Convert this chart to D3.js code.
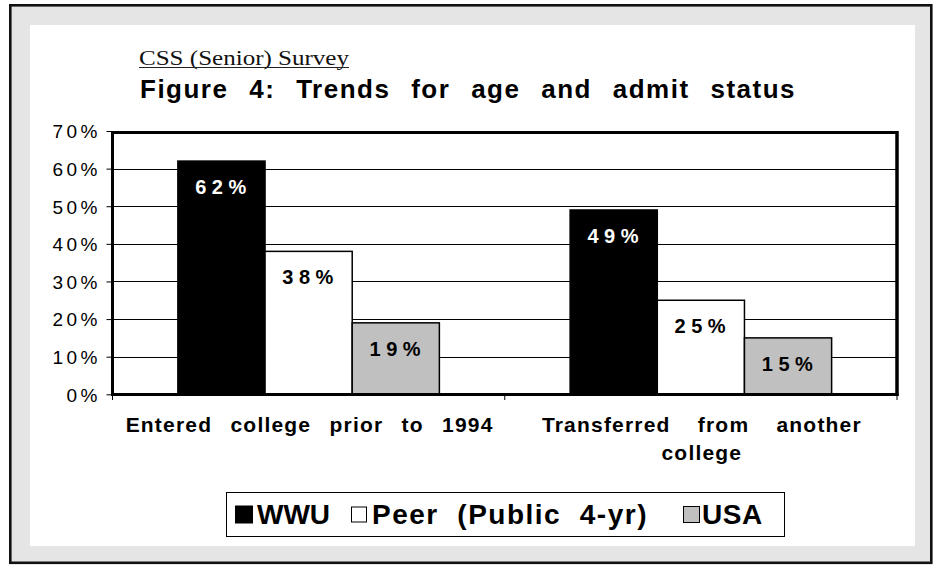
<!DOCTYPE html>
<html>
<head>
<meta charset="utf-8">
<script src="https://cdn.jsdelivr.net/npm/d3@7"></script>
<style>
  html, body { margin: 0; padding: 0; background: #ffffff; }
  svg { display: block; }
</style>
</head>
<body>
<svg id="chart" width="933" height="565"></svg>
<script>
// ---- data ----
const categories = ["Entered college prior to 1994", "Transferred from another college"];
const categoryLines = [["Entered college prior to 1994"], ["Transferred from another", "college"]];
const seriesNames = ["WWU", "Peer (Public 4-yr)", "USA"];
const wwuValues = [62, 49];
const peerValues = [38, 25];
const usaValues = [19, 15];
const yTickValues = [0, 10, 20, 30, 40, 50, 60, 70];
const subtitleText = "CSS (Senior) Survey";
const titleText = "Figure 4: Trends for age and admit status";

// ---- styles / layout ----
const seriesValues = [wwuValues, peerValues, usaValues];
const seriesFill = ["#000000", "#ffffff", "#c0c0c0"];
const labelFill = ["#ffffff", "#000000", "#000000"];
const sans = "'Liberation Sans', Arial, sans-serif";
const serif = "'Liberation Serif', 'Times New Roman', serif";

const svg = d3.select("#chart");

// stretch word gaps so a line of text spans the target width
function fitWords(sel, target) {
  const node = sel.node();
  const txt = node.textContent;
  const spaces = (txt.match(/ /g) || []).length;
  if (!spaces) return sel;
  const w = node.getComputedTextLength();
  sel.attr("word-spacing", Math.max(0, (target - w) / spaces));
  return sel;
}

// outer frame, grey margin, white panel
svg.append("rect").attr("x", 10.3).attr("y", 5.3).attr("width", 921).attr("height", 557.5)
  .attr("fill", "#e5e5e5").attr("stroke", "#111").attr("stroke-width", 2.6);
svg.append("rect").attr("x", 30).attr("y", 25).attr("width", 885).attr("height", 521)
  .attr("fill", "#ffffff");

// subtitle (underlined) and title
svg.append("text").attr("x", 139).attr("y", 65)
  .attr("font-family", serif).attr("font-size", 20).attr("fill", "#111")
  .attr("textLength", 210).attr("lengthAdjust", "spacingAndGlyphs")
  .text(subtitleText);
svg.append("line").attr("x1", 139).attr("x2", 349).attr("y1", 67.5).attr("y2", 67.5)
  .attr("stroke", "#222").attr("stroke-width", 1.2);
const title = svg.append("text").attr("x", 140).attr("y", 98)
  .attr("font-family", sans).attr("font-weight", "bold").attr("font-size", 26).attr("fill", "#000")
  .attr("letter-spacing", 1.5)
  .text(titleText);
fitWords(title, 656);

// scales
const plotLeft = 112.5, plotRight = 897, plotTop = 131, plotBottom = 394.3;
const x0 = d3.scaleBand().domain(categories).range([plotLeft, plotRight]).paddingInner(0).paddingOuter(0);
const x1 = d3.scaleBand().domain(seriesNames).range([0, x0.bandwidth()]).paddingInner(0).paddingOuter(0.75);
const y = d3.scaleLinear().domain([0, 70]).range([plotBottom, plotTop]);

// gridlines
svg.append("g").selectAll("line").data(yTickValues.filter(v => v > 0 && v < 70)).join("line")
  .attr("x1", plotLeft).attr("x2", plotRight)
  .attr("y1", d => Math.round(y(d)) + 0.5).attr("y2", d => Math.round(y(d)) + 0.5)
  .attr("stroke", "#000").attr("stroke-width", 1);

// y axis (ticks + labels)
const yAxis = d3.axisLeft(y).tickValues(yTickValues).tickSize(6).tickPadding(9)
  .tickFormat(d => d + "%");
const gy = svg.append("g").attr("transform", `translate(${plotLeft},0)`).call(yAxis);
gy.select(".domain").remove();
gy.selectAll(".tick line").attr("stroke", "#000").attr("stroke-width", 1);
gy.selectAll(".tick text")
  .attr("font-family", sans).attr("font-size", 19).attr("fill", "#000")
  .attr("letter-spacing", 3.5).attr("dx", 3.5).attr("dy", "0.36em");

// bars
const groups = svg.append("g").selectAll("g").data(categories).join("g")
  .attr("transform", d => `translate(${x0(d)},0)`);
groups.selectAll("rect")
  .data((c, ci) => seriesNames.map((s, si) => ({ s, si, v: seriesValues[si][ci] })))
  .join("rect")
  .attr("x", d => x1(d.s)).attr("width", x1.bandwidth())
  .attr("y", d => y(d.v)).attr("height", d => y(0) - y(d.v))
  .attr("fill", d => seriesFill[d.si]).attr("stroke", "#000").attr("stroke-width", 1.5);
groups.selectAll("text")
  .data((c, ci) => seriesNames.map((s, si) => ({ s, si, v: seriesValues[si][ci] })))
  .join("text")
  .attr("x", d => x1(d.s) + x1.bandwidth() / 2 + 2)
  .attr("y", d => y(d.v) + 33)
  .attr("text-anchor", "middle")
  .attr("font-family", sans).attr("font-weight", "bold").attr("font-size", 20)
  .attr("letter-spacing", 5.5)
  .attr("fill", d => labelFill[d.si])
  .text(d => d.v + "%");

// plot frame
const frame = svg.append("g").attr("fill", "none").attr("stroke", "#000");
frame.append("line").attr("x1", plotLeft).attr("x2", plotRight).attr("y1", 132.5).attr("y2", 132.5).attr("stroke-width", 3);
frame.append("line").attr("x1", plotLeft).attr("x2", plotRight + 1.5).attr("y1", 394.5).attr("y2", 394.5).attr("stroke-width", 3);
frame.append("line").attr("x1", plotLeft).attr("x2", plotLeft).attr("y1", 131).attr("y2", 396).attr("stroke-width", 3);
frame.append("line").attr("x1", plotRight).attr("x2", plotRight).attr("y1", 131).attr("y2", 396).attr("stroke-width", 3.5);

// x axis ticks at category boundaries
const boundaries = categories.map(c => x0(c)).concat([x0(categories[categories.length - 1]) + x0.bandwidth()]);
svg.append("g").selectAll("line").data(boundaries).join("line")
  .attr("x1", d => d).attr("x2", d => d).attr("y1", 394).attr("y2", 400)
  .attr("stroke", "#000").attr("stroke-width", 1);

// category labels
const lineWidths = [[368], [320, 84]];
categories.forEach((c, ci) => {
  categoryLines[ci].forEach((ln, li) => {
    const t = svg.append("text")
      .attr("x", x0(c) + x0.bandwidth() / 2 + 1)
      .attr("y", 432 + li * 28)
      .attr("text-anchor", "middle")
      .attr("font-family", sans).attr("font-weight", "bold").attr("font-size", 21).attr("fill", "#000")
      .attr("letter-spacing", 1.2)
      .text(ln);
    fitWords(t, lineWidths[ci][li]);
  });
});

// legend
svg.append("rect").attr("x", 226.5).attr("y", 492.5).attr("width", 558).attr("height", 44)
  .attr("fill", "#fff").attr("stroke", "#000").attr("stroke-width", 1);
const legendSwatchX = [235, 351, 683];
const legendSwatchSize = [17, 15, 16];
const legendTextX = [257, 372, 702];
const legendTextW = [68, 276, 66];
const legendLetterSpacing = [0, 1.5, 0.5];
seriesNames.forEach((s, i) => {
  const sz = legendSwatchSize[i];
  svg.append("rect").attr("x", legendSwatchX[i] + 0.5).attr("y", 514.5 - sz / 2).attr("width", sz).attr("height", sz)
    .attr("fill", seriesFill[i]).attr("stroke", "#000").attr("stroke-width", 1);
  const t = svg.append("text").attr("x", legendTextX[i]).attr("y", 523.5)
    .attr("font-family", sans).attr("font-weight", "bold").attr("font-size", 28).attr("fill", "#000")
    .attr("letter-spacing", legendLetterSpacing[i])
    .text(s);
  fitWords(t, legendTextW[i]);
});
</script>
</body>
</html>
